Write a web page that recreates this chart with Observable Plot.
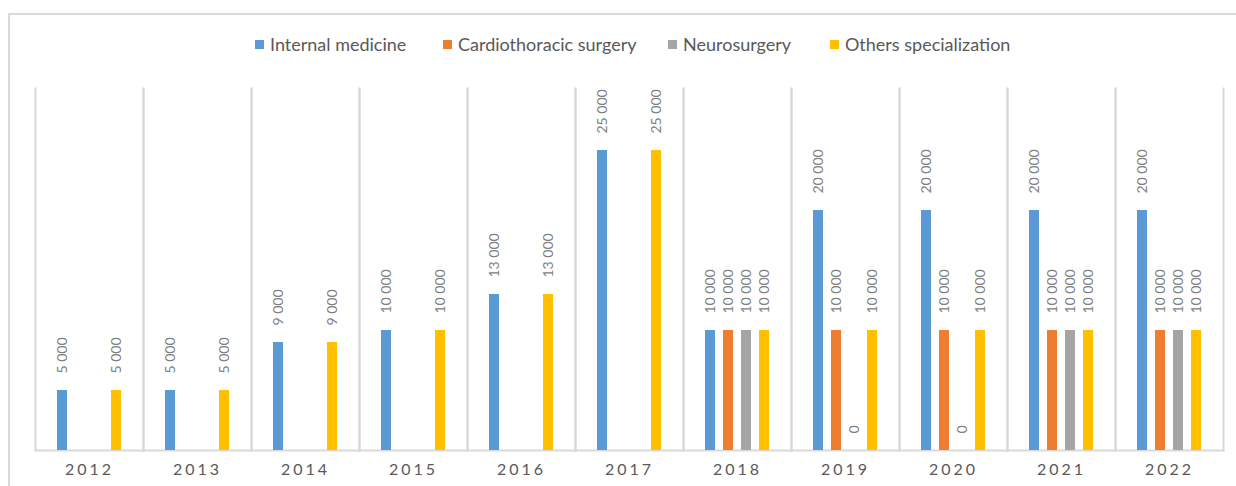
<!DOCTYPE html>
<html>
<head>
<meta charset="utf-8">
<script src="https://cdn.jsdelivr.net/npm/d3@7"></script>
<script src="https://cdn.jsdelivr.net/npm/@observablehq/plot@0.6"></script>
<style>
  html, body { margin: 0; padding: 0; background: #fff; overflow: hidden; }
  #box { position: absolute; left: 8px; top: 13px; width: 1300px; height: 600px;
         border: 2px solid #d9d9d9; box-sizing: border-box; }
  #chart { position: absolute; left: 0; top: 0; }
  #legend { position: absolute; left: 0; top: 0; width: 1236px; height: 80px;
            font-family: Lato, "Open Sans", sans-serif; font-size: 18px; color: #595959; }
  .item { position: absolute; top: 33px; display: flex; align-items: center; white-space: nowrap; }
  .sw { width: 9px; height: 9px; margin-right: 6px; }
  .fxlab text { letter-spacing: 3px; }
</style>
</head>
<body>
<div id="box"></div>
<div id="chart"></div>
<div id="legend"></div>
<script>
const years = ["2012","2013","2014","2015","2016","2017","2018","2019","2020","2021","2022"];
const seriesNames = ["Internal medicine","Cardiothoracic surgery","Neurosurgery","Others specialization"];
const seriesColors = ["#5b9bd5","#ed7d31","#a5a5a5","#ffc000"];
const internalMedicine = [5000,5000,9000,10000,13000,25000,10000,20000,20000,20000,20000];
const cardiothoracic   = [null,null,null,null,null,null,10000,10000,10000,10000,10000];
const neurosurgery     = [null,null,null,null,null,null,10000,0,0,10000,10000];
const others           = [5000,5000,9000,10000,13000,25000,10000,10000,10000,10000,10000];

const seriesValues = [internalMedicine, cardiothoracic, neurosurgery, others];
const data = [];
years.forEach((y, i) => {
  seriesNames.forEach((s, j) => {
    const v = seriesValues[j][i];
    if (v != null) data.push({year: y, series: s, value: v});
  });
});
const fmt = v => d3.format(",")(v).replace(/,/g, " ");

const grid = {stroke: "#d9d9d9", strokeWidth: 2};
const chart = Plot.plot({
  width: 1236,
  height: 486,
  marginTop: 88,
  marginBottom: 36,
  marginLeft: 33,
  marginRight: 11,
  style: {background: "transparent", color: "#595959"},
  fx: {domain: years, padding: 0, label: null, axis: null},
  x: {domain: seriesNames, paddingInner: 0.46, paddingOuter: 1.16, axis: null},
  y: {domain: [0, 30000], range: [450, 90], axis: null},
  color: {domain: seriesNames, range: seriesColors},
  marks: [
    Plot.frame({anchor: "left", ...grid}),
    Plot.frame({anchor: "right", ...grid}),
    Plot.frame({anchor: "bottom", ...grid}),
    Plot.barY(data, {fx: "year", x: "series", y: "value", fill: "series"}),
    Plot.text(data, {
      fx: "year", x: "series", y: "value", text: d => fmt(d.value),
      rotate: -90, textAnchor: "start", dy: -17, fill: "#7f7f7f",
      fontSize: 14, fontFamily: "Lato, 'Open Sans', sans-serif",
      style: {letterSpacing: "2.2px"}
    }),
    Plot.axisFx({anchor: "bottom", tickSize: 0, tickPadding: 13, label: null,
      fontSize: 16, fontFamily: "Lato, 'Open Sans', sans-serif", className: "fxlab", fill: "#595959"})
  ]
});
document.getElementById("chart").appendChild(chart);

const legendX = [255, 443, 668, 830];
const legend = document.getElementById("legend");
seriesNames.forEach((s, i) => {
  const it = document.createElement("div");
  it.className = "item";
  it.style.left = legendX[i] + "px";
  const sw = document.createElement("span");
  sw.className = "sw";
  sw.style.background = seriesColors[i];
  const tx = document.createElement("span");
  tx.textContent = s;
  it.appendChild(sw);
  it.appendChild(tx);
  legend.appendChild(it);
});
</script>
</body>
</html>
